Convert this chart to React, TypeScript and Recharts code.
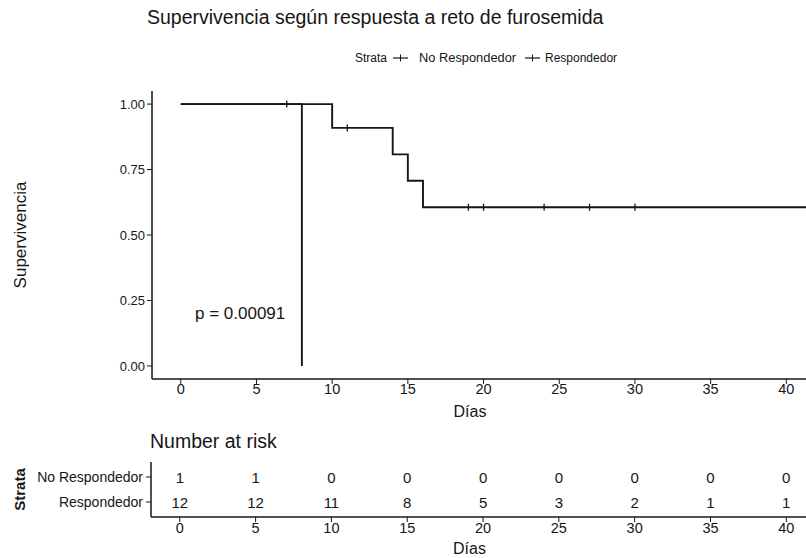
import {
  LineChart,
  Line,
  XAxis,
  YAxis,
  ScatterChart,
  Scatter,
} from "recharts";

const FONT = "'Liberation Sans', Arial, sans-serif";
const INK = "#161616";

// Kaplan-Meier curves (time in days, survival, censored flag)
const respTimes = [0, 7, 10, 11, 14, 15, 16, 19, 20, 24, 27, 30, 41.3];
const respSurv = [1, 1, 0.909, 0.909, 0.808, 0.707, 0.606, 0.606, 0.606, 0.606, 0.606, 0.606, 0.606];
const respCensor = [0, 1, 0, 1, 0, 0, 0, 1, 1, 1, 1, 1, 0];

const noRespTimes = [0, 8];
const noRespSurv = [1, 0];
const noRespCensor = [0, 0];

// Number at risk table
const riskTimes = [0, 5, 10, 15, 20, 25, 30, 35, 40];
const riskNoResp = [1, 1, 0, 0, 0, 0, 0, 0, 0];
const riskResp = [12, 12, 11, 8, 5, 3, 2, 1, 1];

const xTicks = [0, 5, 10, 15, 20, 25, 30, 35, 40];
const yTicks = [0, 0.25, 0.5, 0.75, 1];
const strata = ["No Respondedor", "Respondedor"];

const respData = respTimes.map((t, i) => ({ t, s: respSurv[i], censored: respCensor[i] }));
const noRespData = noRespTimes.map((t, i) => ({ t, s: noRespSurv[i], censored: noRespCensor[i] }));

const riskRows = [
  riskTimes.map((t, i) => ({ t, row: 2, n: riskNoResp[i] })),
  riskTimes.map((t, i) => ({ t, row: 1, n: riskResp[i] })),
];

const censorDot = (props: any) => {
  const { cx, cy, payload, index } = props;
  if (!payload.censored) return <g key={index} />;
  return (
    <line key={index} x1={cx} x2={cx} y1={cy - 3.5} y2={cy + 3.5} stroke={INK} strokeWidth={1.3} />
  );
};

const riskText = (props: any) => (
  <text
    x={props.cx}
    y={props.cy}
    textAnchor="middle"
    dominantBaseline="central"
    fontSize={15}
    fontFamily={FONT}
    fill={INK}
  >
    {props.payload.n}
  </text>
);

const LegendKey = ({ left }: { left: number }) => (
  <svg width={15} height={10} style={{ position: "absolute", left, top: 53 }}>
    <line x1={0} x2={15} y1={5} y2={5} stroke={INK} strokeWidth={1.2} />
    <line x1={7.5} x2={7.5} y1={1.5} y2={8.5} stroke={INK} strokeWidth={1} />
  </svg>
);

const legendText = (left: number, text: string, stretch = 1) => (
  <div
    style={{
      position: "absolute",
      left,
      top: 51,
      fontSize: 12,
      color: INK,
      whiteSpace: "nowrap",
      transform: `scaleX(${stretch})`,
      transformOrigin: "left center",
    }}
  >
    {text}
  </div>
);

const xTick = { fontSize: 14.5, fill: INK, fontFamily: FONT };
const yTick = { fontSize: 13, fill: INK, fontFamily: FONT };

export default function App() {
  return (
    <div
      style={{
        position: "absolute",
        left: 0,
        top: 0,
        width: 806,
        height: 558,
        overflow: "hidden",
        background: "#fff",
        fontFamily: FONT,
      }}
    >
      <div style={{ position: "absolute", left: 147, top: 6, fontSize: 19.5, color: INK, whiteSpace: "nowrap" }}>
        Supervivencia según respuesta a reto de furosemida
      </div>

      {/* legend */}
      {legendText(355, "Strata")}
      <LegendKey left={393} />
      {legendText(419, "No Respondedor", 1.07)}
      <LegendKey left={525} />
      {legendText(545, "Respondedor")}

      <div style={{ position: "absolute", left: 0, top: 0 }}>
        <LineChart width={806} height={420} margin={{ top: 91, right: 0, bottom: 1, left: 0 }}>
          <XAxis
            type="number"
            dataKey="t"
            domain={[-1.9, 41.3]}
            ticks={xTicks}
            allowDataOverflow
            tick={xTick}
            tickSize={5}
            tickMargin={0}
            stroke={INK}
            axisLine={{ stroke: INK, strokeWidth: 1.5 }}
            height={40}
            label={{ value: "Días", position: "insideBottom", offset: 2, dx: -9, fontSize: 16, fill: INK }}
          />
          <YAxis
            type="number"
            domain={[-0.05, 1.05]}
            ticks={yTicks}
            allowDataOverflow
            tickFormatter={(v: number) => v.toFixed(2)}
            tick={yTick}
            tickSize={5}
            tickMargin={2}
            stroke={INK}
            axisLine={{ stroke: INK, strokeWidth: 1.5 }}
            width={152}
            label={{
              value: "Supervivencia",
              angle: -90,
              position: "insideLeft",
              offset: 20,
              fontSize: 17,
              fill: INK,
              style: { textAnchor: "middle" },
            }}
          />
          <Line
            data={noRespData}
            dataKey="s"
            name="No Respondedor"
            type="stepAfter"
            stroke={INK}
            strokeWidth={1.9}
            dot={censorDot}
            activeDot={false}
            isAnimationActive={false}
          />
          <Line
            data={respData}
            dataKey="s"
            name="Respondedor"
            type="stepAfter"
            stroke={INK}
            strokeWidth={1.9}
            dot={censorDot}
            activeDot={false}
            isAnimationActive={false}
          />
        </LineChart>
      </div>

      <div style={{ position: "absolute", left: 195, top: 304, fontSize: 17, color: INK, whiteSpace: "nowrap" }}>
        p = 0.00091
      </div>

      <div style={{ position: "absolute", left: 150, top: 430, fontSize: 19.5, color: INK, whiteSpace: "nowrap" }}>
        Number at risk
      </div>

      <div style={{ position: "absolute", left: 0, top: 420 }}>
        <ScatterChart width={806} height={138} margin={{ top: 42, right: 0, bottom: 0, left: 0 }}>
          <XAxis
            type="number"
            dataKey="t"
            domain={[-1.9, 41.3]}
            ticks={xTicks}
            allowDataOverflow
            tick={xTick}
            tickSize={5}
            tickMargin={1}
            stroke={INK}
            axisLine={{ stroke: INK, strokeWidth: 1.5 }}
            height={41}
            label={{ value: "Días", position: "insideBottom", offset: 4, dx: -9, fontSize: 16, fill: INK }}
          />
          <YAxis
            type="number"
            dataKey="row"
            domain={[0.4, 2.6]}
            ticks={[1, 2]}
            tickFormatter={(v: number) => (v === 2 ? strata[0] : strata[1])}
            tick={{ ...yTick, fontSize: 14 }}
            tickSize={5}
            tickMargin={3}
            stroke={INK}
            axisLine={{ stroke: INK, strokeWidth: 1.5 }}
            width={151}
            label={{
              value: "Strata",
              angle: -90,
              position: "insideLeft",
              offset: 20,
              fontSize: 15,
              fontWeight: "bold",
              fill: INK,
              style: { textAnchor: "middle" },
            }}
          />
          {riskRows.map((rows, i) => (
            <Scatter key={i} data={rows} dataKey="n" shape={riskText} isAnimationActive={false} />
          ))}
        </ScatterChart>
      </div>
    </div>
  );
}
